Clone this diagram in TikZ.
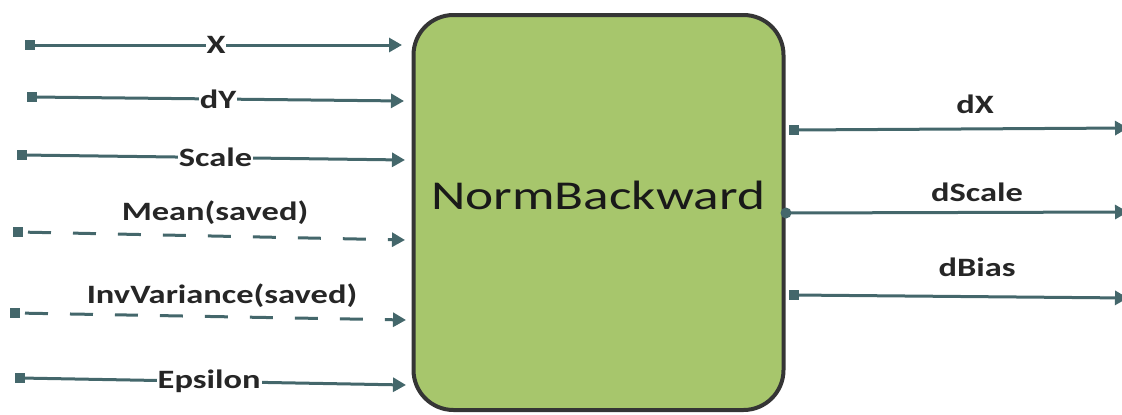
\documentclass[tikz,border=0pt]{standalone}
\usepackage{fontspec}
\setmainfont{Carlito}
\usetikzlibrary{arrows.meta}
\definecolor{wire}{HTML}{44676B}
\definecolor{boxfill}{HTML}{A7C66C}
\definecolor{boxline}{HTML}{353535}
\newcommand{\wide}[1]{\scalebox{1.3}[1]{#1}}
\tikzset{
  wirepath/.style={draw=wire, line width=3pt, -{Triangle[length=13pt,width=14pt]}},
  dashwire/.style={wirepath, dash pattern=on 23pt off 22pt, dash phase=-10pt},
  startsq/.style={fill=wire, inner sep=0pt, minimum size=10pt, rectangle},
  startdot/.style={fill=wire, inner sep=0pt, minimum size=11pt, circle},
  lbl/.style={font=\fontsize{26.5}{30}\selectfont\bfseries, text=black!85, inner sep=1pt},
  onlbl/.style={lbl, fill=white},
}
\begin{document}
\begin{tikzpicture}[x=1pt,y=-1pt]
\useasboundingbox (0,0) rectangle (1122,415);
% main block
\node[draw=boxline, line width=4pt, fill=boxfill, rounded corners=40pt,
      minimum width=370pt, minimum height=395pt, inner sep=0pt] (box) at (598.5,212.5) {};
\node[font=\fontsize{41}{46}\selectfont, text=black!90] (title) at (598,195) {\wide{NormBackward}};
% inputs
\node[startsq] (sX) at (30,45) {};
\coordinate (eX) at (402,45);
\draw[wirepath] (sX.center) -- node[onlbl] {\wide{X}} (eX);
\node[startsq] (sdY) at (32,97) {};
\coordinate (edY) at (404,101);
\draw[wirepath] (sdY.center) -- node[onlbl, pos=0.5] {\wide{dY}} (edY);
\node[startsq] (sSc) at (22,155) {};
\coordinate (eSc) at (405,160);
\draw[wirepath] (sSc.center) -- node[onlbl, pos=0.505] {\wide{Scale}} (eSc);
\node[startsq] (sMe) at (18,232) {};
\coordinate (eMe) at (405,240);
\draw[dashwire] (sMe.center) -- (eMe);
\node[lbl] (lMe) at (215,213) {\wide{Mean(saved)}};
\node[startsq] (sIV) at (15,313) {};
\coordinate (eIV) at (406,320);
\draw[dashwire] (sIV.center) -- (eIV);
\node[lbl] (lIV) at (222,296) {\wide{InvVariance(saved)}};
\node[startsq] (sEp) at (20,378) {};
\coordinate (eEp) at (406,385);
\draw[wirepath] (sEp.center) -- node[onlbl, pos=0.49] {\wide{Epsilon}} (eEp);
% outputs
\node[startsq] (odX) at (794,130) {};
\coordinate (tdX) at (1128,128);
\draw[wirepath] (odX.center) -- (tdX);
\node[lbl] (ldX) at (975,104) {\wide{dX}};
\node[startdot] (odS) at (786,213) {};
\coordinate (tdS) at (1128,212);
\draw[wirepath] (odS.center) -- (tdS);
\node[lbl] (ldS) at (977,192) {\wide{dScale}};
\node[startsq] (odB) at (794,295) {};
\coordinate (tdB) at (1128,298);
\draw[wirepath] (odB.center) -- (tdB);
\node[lbl] (ldB) at (977,267) {\wide{dBias}};
\end{tikzpicture}
\end{document}
